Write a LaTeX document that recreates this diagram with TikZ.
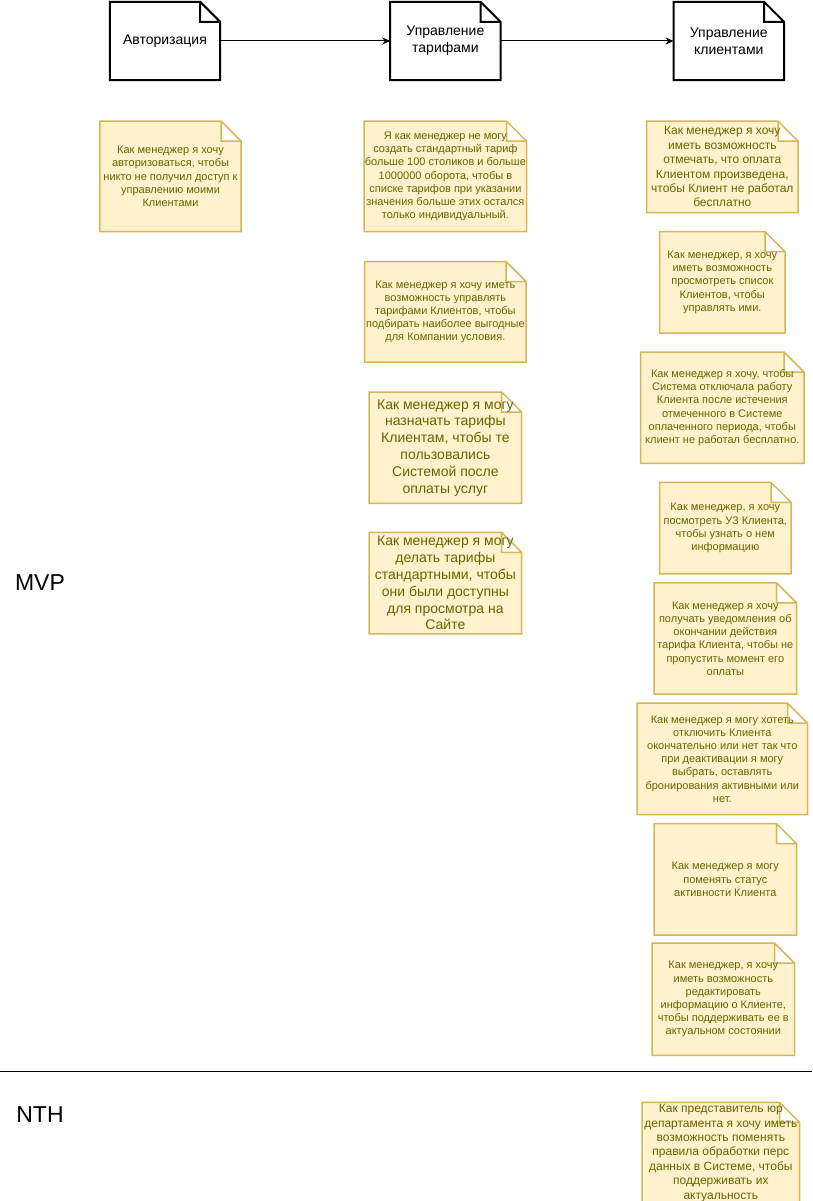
\documentclass[tikz,border=0pt]{standalone}
\usepackage{fontspec}
\setmainfont{Liberation Sans}
\usepackage{tikz}
\usetikzlibrary{positioning}
\usetikzlibrary{arrows.meta,backgrounds}
\definecolor{storyfill}{HTML}{FFF2CC}
\definecolor{storyline}{HTML}{D6B656}
\definecolor{storytext}{HTML}{666600}
\tikzstyle{head} = [rectangle, minimum width=110pt, minimum height=78pt, inner sep=0pt, align=center, font=\fontsize{14}{16.8}\selectfont]
\tikzstyle{story} = [rectangle, inner sep=0pt, align=center, text=storytext, font=\fontsize{11}{13.2}\selectfont]
\tikzstyle{bigstory} = [story, font=\fontsize{14}{16.8}\selectfont]
\tikzstyle{midstory} = [story, font=\fontsize{12}{14.4}\selectfont]
\tikzstyle{headpaper} = [draw=black, fill=white, line width=2pt]
\tikzstyle{storypaper} = [draw=storyline, fill=storyfill, line width=1.5pt]
\tikzstyle{release} = [font=\fontsize{23}{27}\selectfont]
\tikzstyle{arrow} = [line width=1pt,->,>={Stealth[length=8pt,width=7pt,inset=2.5pt]}]

\begin{document}
\begin{tikzpicture}[x=1pt, y=-1pt]
		\useasboundingbox (0,0) rectangle (812,1201);
		% epics
		\node[head] (auth) at (165,41) {Авторизация};
		\node[head,right=170pt of auth] (tariffs) {Управление\\тарифами};
		\node[head,right=173pt of tariffs] (clients) {Управление\\клиентами};
		% stories
		\node[story,below=41pt of auth,xshift=5.5pt,minimum width=141pt,minimum height=110pt] (a1) {Как менеджер я хочу\\авторизоваться, чтобы\\никто не получил доступ к\\управлению моими\\Клиентами};
		\node[story,below=41pt of tariffs,minimum width=162pt,minimum height=110pt] (t1) {Я как менеджер не могу\\создать стандартный тариф\\больше 100 столиков и больше\\1000000 оборота, чтобы в\\списке тарифов при указании\\значения больше этих остался\\только индивидуальный.};
		\node[story,below=30pt of t1,minimum width=161pt,minimum height=100pt] (t2) {Как менеджер я хочу иметь\\возможность управлять\\тарифами Клиентов, чтобы\\подбирать наиболее выгодные\\для Компании условия.};
		\node[bigstory,below=30pt of t2,minimum width=152pt,minimum height=111pt] (t3) {Как менеджер я могу\\назначать тарифы\\Клиентам, чтобы те\\пользовались\\Системой после\\оплаты услуг};
		\node[bigstory,below=29pt of t3,minimum width=152pt,minimum height=101pt] (t4) {Как менеджер я могу\\делать тарифы\\стандартными, чтобы\\они были доступны\\для просмотра на\\Сайте};
		\node[midstory,below=41pt of clients,xshift=-6.5pt,minimum width=151pt,minimum height=91pt] (k1) {Как менеджер я хочу\\иметь возможность\\отмечать, что оплата\\Клиентом произведена,\\чтобы Клиент не работал\\бесплатно};
		\node[story,below=19pt of k1,minimum width=125pt,minimum height=101pt] (k2) {Как менеджер, я хочу\\иметь возможность\\просмотреть список\\Клиентов, чтобы\\управлять ими.};
		\node[story,below=19pt of k2,minimum width=163pt,minimum height=111pt] (k3) {Как менеджер я хочу, чтобы\\Система отключала работу\\Клиента после истечения\\отмеченного в Системе\\оплаченного периода, чтобы\\клиент не работал бесплатно.};
		\node[story,below=19pt of k3,xshift=3pt,minimum width=131pt,minimum height=91pt] (k4) {Как менеджер, я хочу\\посмотреть УЗ Клиента,\\чтобы узнать о нем\\информацию};
		\node[story,below=9pt of k4,minimum width=142pt,minimum height=111pt] (k5) {Как менеджер я хочу\\получать уведомления об\\окончании действия\\тарифа Клиента, чтобы не\\пропустить момент его\\оплаты};
		\node[story,below=9pt of k5,xshift=-3pt,minimum width=170pt,minimum height=111pt] (k6) {Как менеджер я могу хотеть\\отключить Клиента\\окончательно или нет так что\\при деактивации я могу\\выбрать, оставлять\\бронирования активными или\\нет.};
		\node[story,below=9pt of k6,xshift=3pt,minimum width=142pt,minimum height=111pt] (k7) {Как менеджер я могу\\поменять статус\\активности Клиента};
		\node[story,below=8pt of k7,xshift=-2pt,minimum width=142pt,minimum height=112pt] (k8) {Как менеджер, я хочу\\иметь возможность\\редактировать\\информацию о Клиенте,\\чтобы поддерживать ее в\\актуальном состоянии};
		\node[midstory,below=47pt of k8,xshift=-2.5pt,minimum width=157pt,minimum height=101pt] (k9) {Как представитель юр\\департамента я хочу иметь\\возможность поменять\\правила обработки перс\\данных в Системе, чтобы\\поддерживать их\\актуальность};
		% releases
		\node[release] (mvp) at (40,583) {MVP};
		\node[release] (nth) at (40,1115) {NTH};
		\coordinate (cutl) at (0,1071);
		\coordinate (cutr) at (812,1071);
		\draw[line width=1pt] (cutl) -- (cutr);
		\draw[arrow] (auth) -- (tariffs);
		\draw[arrow] (tariffs) -- (clients);
		% folded paper behind the texts
		\begin{scope}[on background layer]
			\foreach \n in {auth,tariffs,clients}
				\draw[headpaper] (\n.north west) -- ([xshift=-20pt]\n.north east) -- ([yshift=-20pt]\n.north east) -- (\n.south east) -- (\n.south west) -- cycle ([xshift=-20pt]\n.north east) |- ([yshift=-20pt]\n.north east);
			\foreach \n in {a1,t1,t2,t3,t4,k1,k2,k3,k4,k5,k6,k7,k8,k9}
				\draw[storypaper] (\n.north west) -- ([xshift=-20pt]\n.north east) -- ([yshift=-20pt]\n.north east) -- (\n.south east) -- (\n.south west) -- cycle ([xshift=-20pt]\n.north east) |- ([yshift=-20pt]\n.north east);
		\end{scope}
	\end{tikzpicture}
\end{document}
